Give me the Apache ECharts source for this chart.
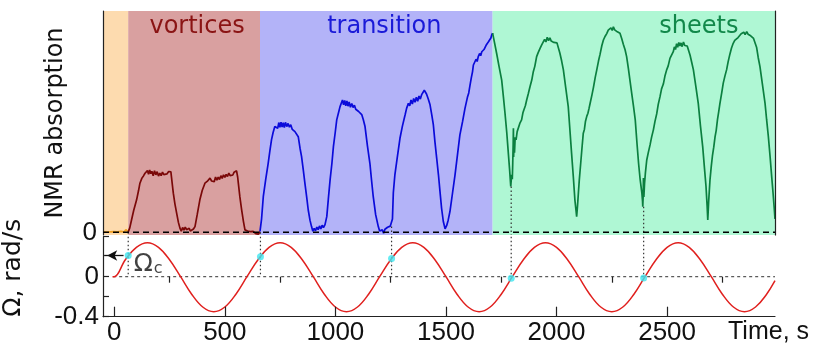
<!DOCTYPE html>
<html><head><meta charset="utf-8">
<script src="https://cdn.jsdelivr.net/npm/echarts@6/dist/echarts.min.js"></script>
<style>html,body{margin:0;padding:0;background:#fff}#c{width:819px;height:348px}</style>
</head><body><div id="c"></div><script>
// ---------- data ----------
const regionNames = ['', 'vortices', 'transition', 'sheets'];
const regionBounds = [-51, 63, 659, 1711, 2988];
const xTickValues = [0, 500, 1000, 1500, 2000, 2500];
const xMinorTickValues = [250, 750, 1250, 1750, 2250, 2750];
const omegaTickValues = [-0.4, -0.2, 0, 0.4];
const omegaLabelValues = [-0.4, 0];
const nmrLabelValues = [0];
const yTitleTop = 'NMR absorption';
const yTitleBottom = 'Ω, rad/s';
const xTitle = 'Time, s';
const omegaCLabel = '{a|Ω}{b|c}';

const orangeData = [[-51,0.3],[-42,0.7],[-34,0.1],[-26,0.8],[-18,0.2],[-10,0.9],[-2,0.3],[6,1.1],[14,0.2],[22,0.9],[30,0.4],[38,1.3],[45,0.2],[52,1.2],[58,0.5],[63,0.2]];
const vorticesData = [[63,0.2],[70,2.0],[78,5.6],[88,10],[101,14.7],[110,19],[116,22.2],[125,24.5],[132,25.5],[139,26.7],[145,25.8],[150,27.9],[155,26.2],[160,28.2],[165,26.5],[170,27.6],[176,25.6],[182,27.8],[188,26.0],[194,27.4],[200,25.4],[206,26.8],[212,25.6],[218,27.2],[224,26.1],[230,27.0],[238,26.4],[246,27.5],[252,26.6],[256,27.3],[262,22],[267,17.7],[274,13],[282,8.7],[290,4.5],[297,1.9],[303,0.5],[309,2.2],[315,1.0],[321,2.4],[327,1.2],[333,0.4],[339,1.8],[344,0.6],[350,0.8],[358,1.5],[365,2.6],[375,8],[387,14.7],[398,19],[410,22.2],[420,23],[433,24.5],[440,23.2],[446,23.8],[452,22.9],[458,25.0],[464,23.6],[470,24.9],[476,23.9],[482,25.6],[488,24.4],[494,26.0],[500,24.8],[506,26.2],[512,25.2],[518,26.8],[524,25.6],[530,26.5],[536,25.9],[542,27.2],[548,26.3],[553,27.8],[558,25],[561,22.2],[568,16],[576,10.2],[584,5],[591,1.1],[597,2.0],[603,0.6],[609,1.4],[615,0.3],[622,1.1],[628,0.4],[634,0.9],[640,-0.6],[646,0.3],[652,-0.8],[659,0.4]];
const transitionData = [[659,0.4],[666,6],[674,16.2],[685,24],[696,31.2],[704,37],[711,41.8],[718,45],[726,47.8],[734,48.5],[739,47],[744,49.6],[749,47.4],[754,49.8],[759,47.6],[764,49.5],[769,47.3],[774,49.7],[780,47.8],[786,49.2],[792,47.5],[798,48.6],[805,46.5],[811,46.9],[817,45.5],[825,44.6],[832,43.2],[840,38],[847,34.2],[855,28],[862,22.2],[870,16],[877,10.2],[885,5.5],[892,2.6],[898,0.5],[904,1.8],[910,0.7],[916,2.4],[922,1.2],[928,2.9],[934,1.5],[940,3.2],[946,2.2],[953,3.5],[961,7.1],[968,15],[976,23.7],[984,31],[991,38.7],[999,45],[1006,50.8],[1014,54],[1021,56.8],[1027,57.5],[1032,59.8],[1037,57.6],[1042,59.6],[1047,57.2],[1052,59.4],[1057,57.0],[1062,58.9],[1068,56.5],[1074,58.2],[1080,56.4],[1086,57.4],[1092,55.6],[1098,56.3],[1105,54.6],[1112,54.8],[1119,53.2],[1126,51],[1134,47.8],[1145,39],[1156,31.2],[1163,24],[1171,16.2],[1182,8],[1194,2.6],[1200,0.6],[1206,-0.2],[1212,1.1],[1218,-0.4],[1224,1.4],[1230,0.8],[1236,2.3],[1242,1.6],[1248,2.8],[1254,2.4],[1258,6],[1262,18],[1269,26],[1280,34],[1292,42.5],[1303,48],[1315,53],[1322,56],[1330,58.3],[1336,57.2],[1342,59.8],[1348,58.0],[1354,60.5],[1360,58.8],[1366,61.0],[1372,59.2],[1378,61.6],[1384,60.2],[1390,62.2],[1396,61.5],[1402,64.2],[1406,65.0],[1412,62.5],[1420,60.2],[1428,57.6],[1436,53],[1443,48.5],[1450,41],[1458,33.5],[1466,26],[1473,18.4],[1480,11],[1488,4.9],[1496,1.6],[1503,3],[1510,5.5],[1518,9.4],[1530,18],[1541,26],[1552,35],[1563,44],[1575,50],[1586,56],[1597,61],[1603,63],[1609,66.6],[1615,70],[1620,72.5],[1624,75.6],[1630,76],[1636,78.2],[1641,77.2],[1646,79.4],[1652,80.8],[1657,79.8],[1662,81.6],[1667,80.7],[1672,82.6],[1677,83.2],[1683,84.8],[1688,84.0],[1693,86.2],[1698,85.6],[1703,87.8],[1707,89.2],[1711,90]];
const sheetsData = [[1711,90],[1720,85.5],[1729,80.9],[1740,75],[1752,68.8],[1760,61],[1767,53.8],[1775,45],[1782,35.8],[1788,28],[1793,20.7],[1797,26],[1800,24],[1802,31.2],[1804,40],[1805,47],[1806,34],[1808,42],[1810,36],[1813,43],[1817,41.8],[1822,45.5],[1828,46],[1835,49.5],[1842,50.8],[1848,54],[1853,55.5],[1859,57.2],[1865,59.8],[1872,62.5],[1880,65.8],[1888,68.8],[1895,72.6],[1902,75.1],[1910,79.4],[1917,81.2],[1925,83.0],[1933,84.7],[1940,85.6],[1946,87.2],[1952,86.0],[1958,88.1],[1964,86.6],[1970,87.9],[1976,86.4],[1982,87.3],[1988,85.8],[1995,86.7],[2002,85.6],[2008,85.4],[2015,81],[2023,77.5],[2031,73.4],[2042,65],[2053,56.8],[2060,47],[2068,35.8],[2076,25],[2083,14.7],[2088,10],[2091,7.1],[2095,12],[2099,18],[2103,23.7],[2110,32],[2115,38],[2121,44.8],[2126,46.5],[2131,50.2],[2137,52.5],[2142,53.8],[2147,56],[2152,58.3],[2160,62],[2167,65.5],[2175,70],[2182,73.4],[2190,77.5],[2197,80.5],[2205,84.4],[2212,86.9],[2220,88.6],[2227,89.8],[2234,91.4],[2240,90.6],[2246,92.4],[2252,91.2],[2257,92.9],[2263,91.5],[2269,92.3],[2275,90.6],[2281,91.2],[2287,89.9],[2295,87.5],[2302,85],[2310,82.5],[2317,79.4],[2325,74],[2333,68],[2340,62.8],[2348,57],[2356,50.8],[2364,40],[2371,31.2],[2378,24],[2386,17.7],[2389,14],[2390,11.6],[2392,17],[2393,24.5],[2395,16],[2398,22],[2402,27],[2408,32.7],[2415,36],[2423,39.5],[2430,43],[2438,46.3],[2445,50],[2453,53.5],[2460,57.8],[2468,61.3],[2475,64.8],[2483,67],[2490,70.5],[2498,73.4],[2505,75.2],[2513,78.6],[2520,79.5],[2528,81.6],[2533,83.8],[2538,82.6],[2543,85.2],[2548,83.6],[2553,85.8],[2558,84.2],[2563,85.6],[2568,83.9],[2574,86.0],[2580,84.4],[2586,85.3],[2591,84.2],[2596,85.0],[2604,80],[2612,76.5],[2619,73.4],[2630,66],[2641,58.3],[2651,48],[2661,38.7],[2669,29],[2676,20.7],[2681,12],[2684,5.6],[2688,14],[2694,23.7],[2700,30],[2705,34.5],[2711,38.5],[2717,43.2],[2722,46],[2728,51],[2733,54.2],[2739,58.3],[2747,63],[2754,67.4],[2762,70.8],[2769,73.4],[2776,77],[2784,80.5],[2791,83.2],[2799,85.4],[2806,86.7],[2814,87.4],[2821,88.0],[2829,88.4],[2835,89.7],[2841,88.8],[2847,90.4],[2853,89.3],[2860,90.7],[2866,89.5],[2872,90.3],[2878,88.8],[2885,88.9],[2891,87.6],[2898,86.9],[2905,83.5],[2912,79],[2920,74.9],[2931,67],[2943,58.3],[2950,51],[2958,43.2],[2966,34],[2973,25.2],[2979,18],[2984,11.6],[2988,6]];
const omegaData = [[-8,0],[0,0],[50,0.17],[100,0.294],[150,0.34],[200,0.294],[250,0.17],[300,0],[350,-0.175],[400,-0.303],[450,-0.35],[500,-0.303],[550,-0.175],[600,0],[650,0.17],[700,0.294],[750,0.34],[800,0.294],[850,0.17],[900,0],[950,-0.175],[1000,-0.303],[1050,-0.35],[1100,-0.303],[1150,-0.175],[1200,0],[1250,0.17],[1300,0.294],[1350,0.34],[1400,0.294],[1450,0.17],[1500,0],[1550,-0.175],[1600,-0.303],[1650,-0.35],[1700,-0.303],[1750,-0.175],[1800,0],[1850,0.17],[1900,0.294],[1950,0.34],[2000,0.294],[2050,0.17],[2100,0],[2150,-0.175],[2200,-0.303],[2250,-0.35],[2300,-0.303],[2350,-0.175],[2400,0],[2450,0.17],[2500,0.294],[2550,0.34],[2600,0.294],[2650,0.17],[2700,0],[2750,-0.175],[2800,-0.303],[2850,-0.35],[2900,-0.303],[2950,-0.175],[2988,-0.04]];
const dotTimes = [63, 661, 1254, 1795, 2394];
const dotOmega = [0.212, 0.2, 0.182, -0.015, -0.012];
const dotNmrTop = [0, 0, 2.6, 20.7, 11.6];
const omegaC = 0.212;
const arrowFrom = 42, arrowTo = -46;

// ---------- styles / layout ----------
const FT = 'DejaVu Sans', FN = 'Liberation Sans';
const X_MIN = -51, X_MAX = 2988, NMR_MIN = -1.2, NMR_MAX = 100;
const regionFill = ['#FDDBAF', '#D9A0A0', '#B3B3F8', '#AFF7D4'];
const regionText = ['#000', '#8A1414', '#1A1AD8', '#12884A'];
const regionLabelOffset = [[0, 0], [3, 2], [8, 2], [65, 2]];
const curveColors = ['#F2A020', '#7A0808', '#0A0ADA', '#0B7F3F'];
const axisColor = '#222';
const TOP = { xAxisIndex: 0, yAxisIndex: 0 };
const BOT = { xAxisIndex: 1, yAxisIndex: 2 };
const plain = (v) => String(v);

const markAreaData = regionNames.map((n, i) => [
  { name: n, xAxis: regionBounds[i], itemStyle: { color: regionFill[i] },
    label: { color: regionText[i], offset: regionLabelOffset[i] } },
  { xAxis: regionBounds[i + 1] }
]);

const curves = [orangeData, vorticesData, transitionData, sheetsData].map((d, i) => Object.assign({
  type: 'line', data: d, symbol: 'none', z: 4,
  lineStyle: { color: curveColors[i], width: 1.7 }, silent: true
}, TOP));

const dottedTop = dotTimes.map((t, i) => Object.assign({
  type: 'line', symbol: 'none', z: 5, silent: true,
  data: [[t, dotNmrTop[i]], [t, NMR_MIN]],
  lineStyle: { color: '#333', width: 1.2, type: [1.5, 2.5] }
}, TOP));
const dottedBottom = dotTimes.map((t) => Object.assign({
  type: 'line', symbol: 'none', z: 3, silent: true,
  data: [[t, 0.4], [t, 0]],
  lineStyle: { color: '#333', width: 1.2, type: [1.5, 2.5] }
}, BOT));

const option = {
  animation: false,
  grid: [
    { left: 103, top: 11, width: 672, height: 224, containLabel: false, outerBoundsMode: 'none' },
    { left: 103, top: 236.7, width: 672, height: 80, containLabel: false, outerBoundsMode: 'none' }
  ],
  xAxis: [
    { gridIndex: 0, type: 'value', min: X_MIN, max: X_MAX, axisLine: { show: false },
      axisTick: { show: false }, axisLabel: { show: false }, splitLine: { show: false } },
    { gridIndex: 1, type: 'value', min: X_MIN, max: X_MAX, z: 6,
      axisLine: { show: true, onZero: false, lineStyle: { color: axisColor, width: 1.2 } },
      axisTick: { show: true, inside: true, length: 10, customValues: xTickValues, lineStyle: { color: axisColor, width: 1.2 } },
      axisLabel: { show: true, customValues: xTickValues, formatter: plain, fontFamily: FN, fontSize: 26, color: '#111', margin: 3 },
      splitLine: { show: false } },
    { gridIndex: 1, type: 'value', min: X_MIN, max: X_MAX, z: 6,
      axisLine: { show: false },
      axisTick: { show: true, inside: true, length: 6, customValues: xMinorTickValues, lineStyle: { color: axisColor, width: 1.2 } },
      axisLabel: { show: false }, splitLine: { show: false } }
  ],
  yAxis: [
    { gridIndex: 0, type: 'value', min: NMR_MIN, max: NMR_MAX, z: 6,
      axisLine: { show: true, onZero: false, lineStyle: { color: axisColor, width: 1.2 } },
      axisTick: { show: false },
      axisLabel: { show: true, customValues: nmrLabelValues, formatter: plain, fontFamily: FN, fontSize: 26, color: '#111', margin: 6 },
      splitLine: { show: false },
      name: yTitleTop, nameLocation: 'middle', nameGap: 35, nameRotate: 90,
      nameTextStyle: { fontFamily: FT, fontSize: 24, color: '#111' } },
    { gridIndex: 0, type: 'value', min: NMR_MIN, max: NMR_MAX, position: 'right', z: 6,
      axisLine: { show: true, onZero: false, lineStyle: { color: axisColor, width: 1.2 } },
      axisTick: { show: false }, axisLabel: { show: false }, splitLine: { show: false } },
    { gridIndex: 1, type: 'value', min: -0.4, max: 0.4, z: 6,
      axisLine: { show: true, onZero: false, lineStyle: { color: axisColor, width: 1.2 } },
      axisTick: { show: true, inside: true, length: 6, customValues: omegaTickValues, lineStyle: { color: axisColor, width: 1.2 } },
      axisLabel: { show: true, customValues: omegaLabelValues, formatter: plain, fontFamily: FN, fontSize: 26, color: '#111', margin: 4 },
      splitLine: { show: false },
      name: yTitleBottom, nameLocation: 'middle', nameGap: 77, nameRotate: 90,
      nameTextStyle: { fontFamily: FT, fontSize: 25, color: '#111', padding: [0, 0, 0, 18] } }
  ],
  series: [
    Object.assign({ type: 'line', data: [[X_MIN, 0], [X_MAX, 0]], symbol: 'none', z: 6, silent: true,
      lineStyle: { color: '#000', width: 1.5, type: [6, 4] },
      markArea: { silent: true, z: 1, data: markAreaData,
        label: { show: true, position: 'insideTop', distance: 2, fontFamily: FT, fontSize: 24 } } }, TOP),
    ...curves,
    ...dottedTop,
    Object.assign({ type: 'line', data: [[-5, 0], [X_MAX, 0]], symbol: 'none', z: 2, silent: true,
      lineStyle: { color: '#333', width: 1, type: [3, 3] } }, BOT),
    ...dottedBottom,
    Object.assign({ type: 'line', data: omegaData, symbol: 'none', smooth: 0.4, z: 4, silent: true,
      lineStyle: { color: '#E0201E', width: 1.5 } }, BOT),
    Object.assign({ type: 'line', data: [[arrowFrom, omegaC], [arrowTo, omegaC]], z: 9, silent: true,
      showSymbol: false, clip: false,
      lineStyle: { color: '#111', width: 1.3 },
      markPoint: { silent: true, symbol: 'arrow', symbolSize: [8, 10], symbolRotate: 90,
        itemStyle: { color: '#111' }, label: { show: false },
        data: [{ coord: [arrowTo + 14, omegaC] }] } }, BOT),
    Object.assign({ type: 'scatter', z: 8, silent: true,
      data: dotTimes.map((t, i) => [t, dotOmega[i]]), symbolSize: 7,
      itemStyle: { color: '#3FE6F0' } }, BOT),
    Object.assign({ type: 'scatter', z: 8, silent: true,
      data: [[88, 0.127]], symbolSize: 0,
      label: { show: true, position: 'right', distance: 0, formatter: omegaCLabel,
        rich: { a: { fontFamily: FT, fontSize: 25, color: '#111', verticalAlign: 'bottom' },
                b: { fontFamily: FT, fontSize: 16, color: '#111', verticalAlign: 'bottom', padding: [0, 0, 0, 1] } } } }, BOT)
  ],
  graphic: [
    { type: 'text', left: 728, top: 320, silent: true,
      style: { text: xTitle, font: '25px "Liberation Sans"', fill: '#111' } }
  ]
};
const chart = echarts.init(document.getElementById('c'));
chart.setOption(option);
</script></body></html>
